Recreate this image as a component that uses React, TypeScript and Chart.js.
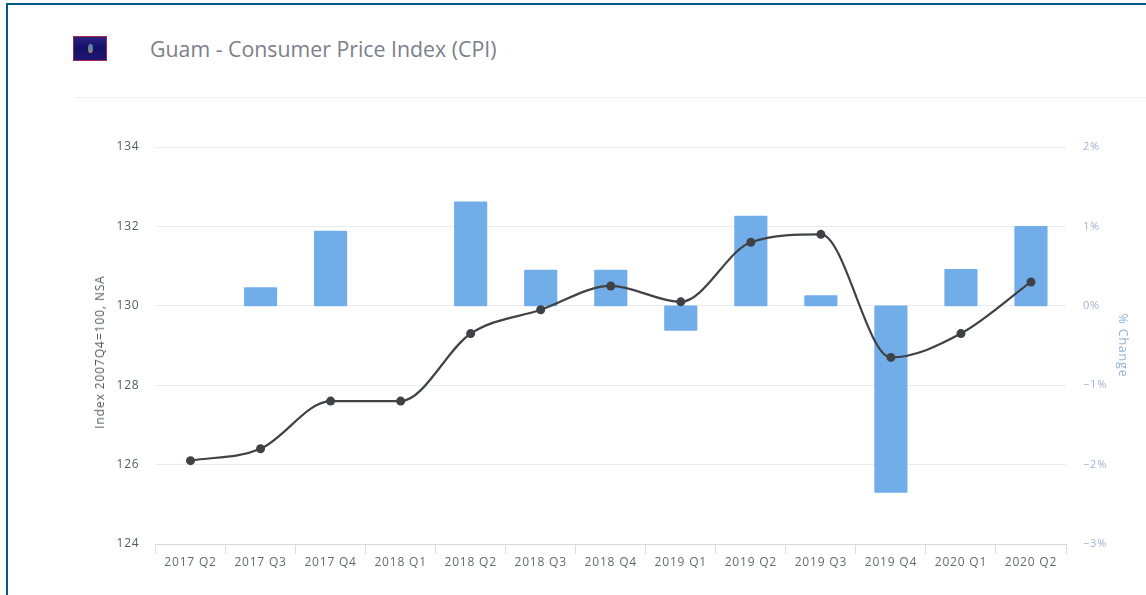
import React, { useEffect, useRef } from "react";
import { Chart, registerables } from "chart.js";

Chart.register(...registerables);

const categories = ["2017 Q2", "2017 Q3", "2017 Q4", "2018 Q1", "2018 Q2", "2018 Q3", "2018 Q4", "2019 Q1", "2019 Q2", "2019 Q3", "2019 Q4", "2020 Q1", "2020 Q2"];
const indexValues = [126.1, 126.4, 127.6, 127.6, 129.3, 129.9, 130.5, 130.1, 131.6, 131.8, 128.7, 129.3, 130.6];
const changeValues = [null, 0.23, 0.94, null, 1.31, 0.45, 0.45, -0.31, 1.13, 0.13, -2.35, 0.46, 1.0];
const chartTitle = "Guam - Consumer Price Index (CPI)";
const leftAxisTitle = "Index 2007Q4=100, NSA";
const rightAxisTitle = "% Change";

const FONT = "'Open Sans', sans-serif";

const letterSpacingPlugin = {
  id: "letterSpacing",
  beforeDraw(chart: any) {
    chart.ctx.letterSpacing = "0.8px";
  },
};

export default function App() {
  const ref = useRef<HTMLCanvasElement>(null);
  useEffect(() => {
    document.body.style.margin = "0";
    document.body.style.background = "#fff";
    const chart = new Chart(ref.current!, {
      data: {
        labels: categories,
        datasets: [
          {
            type: "line",
            label: "Index",
            data: indexValues,
            yAxisID: "y",
            order: 1,
            borderColor: "#404246",
            backgroundColor: "#404246",
            borderWidth: 2.2,
            pointRadius: 4.5,
            pointBackgroundColor: "#3f4146",
            pointBorderWidth: 0,
            cubicInterpolationMode: "monotone",
            clip: false,
          },
          {
            type: "bar",
            label: "% Change",
            data: changeValues,
            yAxisID: "y1",
            order: 2,
            backgroundColor: "#71aee9",
            barThickness: 32.5,
            borderRadius: 1,
            borderSkipped: false,
          },
        ],
      } as any,
      plugins: [letterSpacingPlugin],
      options: {
        responsive: false,
        animation: false,
        layout: { padding: { left: 92, right: 16, top: 147, bottom: 0 } },
        plugins: { legend: { display: false }, tooltip: { enabled: false }, title: { display: false } },
        scales: {
          x: {
            offset: true,
            grid: { drawOnChartArea: false, drawTicks: true, tickLength: 10, color: "#d8dde6", offset: true },
            border: { color: "#d3d8e2", width: 1 },
            ticks: { color: "#666a70", font: { family: FONT, size: 12 }, padding: 1, maxRotation: 0, autoSkip: false },
            afterFit: (s: any) => { s.height = 51; },
          },
          y: {
            position: "left",
            min: 124,
            max: 134,
            ticks: { stepSize: 2, color: "#555a60", font: { family: FONT, size: 12 }, padding: 16 },
            grid: { color: "#e8ecf1", drawTicks: false, lineWidth: 1 },
            border: { display: false },
            afterFit: (s: any) => { s.width = 63.5; },
          },
          y1: {
            position: "right",
            min: -3,
            max: 2,
            ticks: {
              stepSize: 1,
              color: "#a3b2d0",
              font: { family: FONT, size: 11 },
              padding: 17,
              callback: (v: any) => (v < 0 ? "\u2212" + Math.abs(v) : v) + "%",
            },
            grid: { display: false, drawTicks: false },
            border: { display: false },
            title: { display: true, text: rightAxisTitle, color: "#8fb4dc", font: { family: FONT, size: 12.5 }, padding: 0 },
            afterFit: (s: any) => { s.width = 64; },
          },
        },
      } as any,
    });
    return () => chart.destroy();
  }, []);

  return (
    <div style={{ position: "relative", width: 1146, height: 595, overflow: "hidden", background: "#fff" }}>
      <div style={{ position: "absolute", left: 6, top: 3, right: -10, bottom: -10, borderLeft: "2px solid #005b88", borderTop: "2px solid #005b88" }} />
      <div style={{ position: "absolute", left: 73, top: 36, width: 32, height: 23, background: "linear-gradient(#2a2180, #14106a 50%, #1e1670)", border: "1px solid #a8254c" }}>
        <div style={{ position: "absolute", left: 14, top: 7, width: 5, height: 9, borderRadius: "50%", background: "linear-gradient(#5f86a8 55%, #c8853c)" }} />
      </div>
      <div style={{ position: "absolute", left: 150, top: 34, fontFamily: FONT, fontSize: 21.3, color: "#7b7f8a", whiteSpace: "nowrap", lineHeight: "30px" }}>{chartTitle}</div>
      <div style={{ position: "absolute", left: 75, top: 97, right: 0, height: 1, background: "#eef0f3" }} />
      <canvas ref={ref} width={1146} height={595} style={{ position: "absolute", left: 0, top: 0, display: "block" }} />
      <div style={{ position: "absolute", left: 100, top: 352, fontFamily: FONT, fontSize: 12, letterSpacing: "0.9px", color: "#555a60", whiteSpace: "nowrap", lineHeight: "14px", transform: "translate(-50%, -50%) rotate(-90deg)" }}>{leftAxisTitle}</div>
    </div>
  );
}
